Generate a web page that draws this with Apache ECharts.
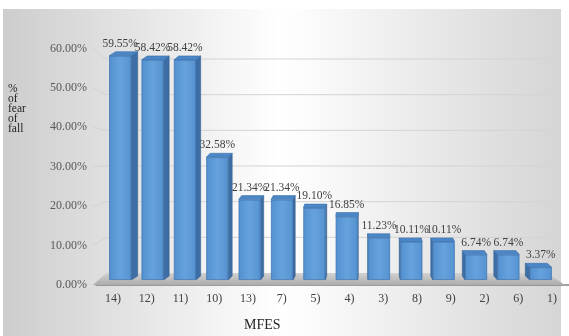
<!DOCTYPE html>
<html>
<head>
<meta charset="utf-8">
<script src="https://cdn.jsdelivr.net/npm/echarts@6/dist/echarts.min.js"></script>
<style>
  html, body { margin: 0; padding: 0; background: #fff; }
  #main { width: 569px; height: 336px; }
</style>
</head>
<body>
<div id="main"></div>
<script>
// MFES items, sorted by share
var categories = ['14)', '12)', '11)', '10)', '13)', '7)', '5)', '4)', '3)', '8)', '9)', '2)', '6)', '1)'];
var fearOfFall = [59.55, 58.42, 58.42, 32.58, 21.34, 21.34, 19.10, 16.85, 11.23, 10.11, 10.11, 6.74, 6.74, 3.37];
var yTicks = [0, 10, 20, 30, 40, 50, 60];

var serif = '"Liberation Serif", "DejaVu Serif", serif';
var BAR_W = 22;
var FRONT_LEFT = 93, FRONT_RIGHT = 565;

var myChart = echarts.init(document.getElementById('main'));

function pct(v) { return v.toFixed(2) + '%'; }

// side + top faces of the 3d columns
function renderBox(params, api) {
    var i = api.value(0);
    var v = api.value(1);
    var top = api.coord([i, v]);
    var bottom = api.coord([i, 0])[1];
    var l = top[0] - BAR_W / 2, r = top[0] + BAR_W / 2, t = top[1];
    var dx = -0.026 * (top[0] - 368), dy = -4;
    var sx = dx > 0 ? r : l;
    return {
        type: 'group',
        children: [
            {
                type: 'polygon',
                shape: { points: [[sx, t], [sx + dx, t + dy], [sx + dx, bottom + dy], [sx, bottom]] },
                style: { fill: '#3d6ea6', stroke: '#345f90', lineWidth: 0.6 }
            },
            {
                type: 'polygon',
                shape: { points: [[l, t], [l + dx, t + dy], [r + dx, t + dy], [r, t]] },
                style: { fill: '#4b87c6', stroke: '#3c70aa', lineWidth: 0.6 }
            }
        ]
    };
}

// back wall gridlines, side wall slants and the floor
function renderWall(params, api) {
    var v = api.value(0);
    var bl = api.coord([0, v]);
    var br = api.coord([1, v]);
    var fy = myChart.convertToPixel({ yAxisIndex: 0 }, v);
    var children = [];
    if (v === 0) {
        children.push({
            type: 'polygon',
            shape: { points: [[FRONT_LEFT, fy], bl, br, [FRONT_RIGHT, fy]] },
            style: {
                fill: new echarts.graphic.LinearGradient(0, 0, 0, 1, [
                    { offset: 0, color: '#d2d2d2' },
                    { offset: 1, color: '#acacac' }
                ])
            }
        });
    } else {
        children.push({
            type: 'polyline',
            shape: { points: [[FRONT_LEFT, fy], bl, br] },
            style: { stroke: '#d3d3d3', lineWidth: 1, fill: null }
        });
    }
    return { type: 'group', children: children };
}

var option = {
    animation: false,
    graphic: [{
        type: 'rect',
        silent: true,
        z: -100,
        shape: { x: 3, y: 9, width: 558, height: 327 },
        style: {
            fill: new echarts.graphic.LinearGradient(0, 0, 1, 0, [
                { offset: 0, color: '#cdcdcd' },
                { offset: 0.5, color: '#ffffff' },
                { offset: 1, color: '#d5d5d5' }
            ])
        }
    }],
    title: [
        {
            text: '%\nof\nfear\nof\nfall',
            left: 8,
            top: 84,
            padding: 0,
            textStyle: { fontFamily: serif, fontSize: 11.5, fontWeight: 'normal', color: '#1f1f1f', lineHeight: 10 }
        },
        {
            text: 'MFES',
            left: 244,
            top: 318,
            padding: 0,
            textStyle: { fontFamily: serif, fontSize: 14, fontWeight: 'normal', color: '#262626' }
        }
    ],
    grid: [
        { left: 96, right: 0, top: 48.5, bottom: 51 },   // axis labels (front)
        { left: 106, right: 22, top: 59, bottom: 63 },   // back wall
        { left: 104, right: 12, top: 54, bottom: 56 }    // columns
    ],
    xAxis: [
        {
            gridIndex: 0,
            type: 'category',
            data: categories,
            axisLine: { lineStyle: { color: '#808080', width: 1.5 } },
            axisTick: { show: false },
            axisLabel: { fontFamily: serif, fontSize: 12, color: '#404040', margin: 8 },
            splitLine: { show: false }
        },
        { gridIndex: 1, type: 'value', min: 0, max: 1, show: false },
        { gridIndex: 2, type: 'category', data: categories, show: false }
    ],
    yAxis: [
        {
            gridIndex: 0,
            type: 'value',
            min: 0, max: 60, interval: 10,
            axisLine: { show: false },
            axisTick: { show: false },
            splitLine: { show: false },
            axisLabel: { fontFamily: serif, fontSize: 12, color: '#595959', margin: 9, formatter: pct }
        },
        { gridIndex: 1, type: 'value', min: 0, max: 60, interval: 10, show: false, splitLine: { show: false } },
        { gridIndex: 2, type: 'value', min: 0, max: 60, interval: 10, show: false, splitLine: { show: false } }
    ],
    series: [
        {
            type: 'custom',
            xAxisIndex: 1,
            yAxisIndex: 1,
            z: 1,
            silent: true,
            renderItem: renderWall,
            data: yTicks.map(function (t) { return [t]; })
        },
        {
            type: 'custom',
            xAxisIndex: 2,
            yAxisIndex: 2,
            z: 2,
            renderItem: renderBox,
            data: fearOfFall.map(function (v, i) { return [i, v]; })
        },
        {
            type: 'bar',
            xAxisIndex: 2,
            yAxisIndex: 2,
            z: 3,
            barWidth: BAR_W,
            data: fearOfFall,
            itemStyle: {
                color: new echarts.graphic.LinearGradient(0, 0, 1, 0, [
                    { offset: 0, color: '#5390d0' },
                    { offset: 0.5, color: '#66a2dc' },
                    { offset: 1, color: '#5592d1' }
                ]),
                borderColor: '#3f76b4',
                borderWidth: 0.8
            },
            label: {
                show: true,
                position: 'top',
                distance: 6,
                fontFamily: serif,
                fontSize: 11.5,
                color: '#404040',
                formatter: function (p) { return pct(p.value); }
            }
        }
    ]
};

myChart.setOption(option);
</script>
</body>
</html>
